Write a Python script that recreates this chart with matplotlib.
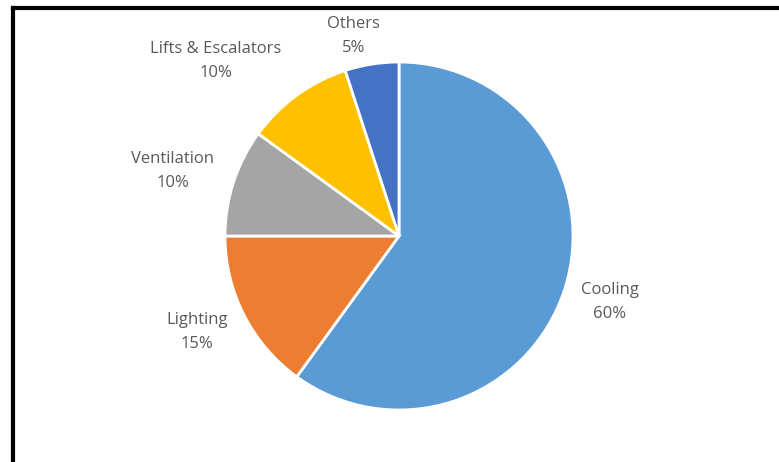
import matplotlib
matplotlib.use("Agg")
from matplotlib import pyplot as plt
from matplotlib.lines import Line2D

labels = ["Cooling", "Lighting", "Ventilation", "Lifts & Escalators", "Others"]
shares = [60, 15, 10, 10, 5]
colors = ["#5B9BD5", "#ED7D31", "#A5A5A5", "#FFC000", "#4472C4"]

# label centres (data units, pie radius = 1)
label_pos = [(1.213, -0.379), (-1.161, -0.552), (-1.299, 0.374), (-1.052, 1.006), (-0.259, 1.149)]

W, H = 779, 462
fig = plt.figure(figsize=(W / 100, H / 100), dpi=100)
fig.patch.set_facecolor("white")

cx, cy, r = 399, 236, 174
ax = fig.add_axes([(cx - r) / W, (H - cy - r) / H, 2 * r / W, 2 * r / H])
ax.pie(shares, colors=colors, startangle=90, counterclock=False,
       wedgeprops=dict(edgecolor="white", linewidth=2))
ax.set_xlim(-1, 1)
ax.set_ylim(-1, 1)
ax.set_aspect("equal")
ax.axis("off")

for lab, val, (x, y) in zip(labels, shares, label_pos):
    ax.text(x, y, f"{lab}\n{val}%", ha="center", va="center", fontsize=12,
            family="Open Sans", color="#595959", linespacing=1.65, clip_on=False)

# black frame on the left and top edges
fig.add_artist(Line2D([13 / W, 13 / W], [0, 1 - 7.5 / H], transform=fig.transFigure,
                      color="black", linewidth=3, solid_capstyle="projecting"))
fig.add_artist(Line2D([13 / W, 1], [1 - 7.5 / H, 1 - 7.5 / H], transform=fig.transFigure,
                      color="black", linewidth=3, solid_capstyle="projecting"))

fig.savefig("out.png", dpi=100, facecolor="white")
